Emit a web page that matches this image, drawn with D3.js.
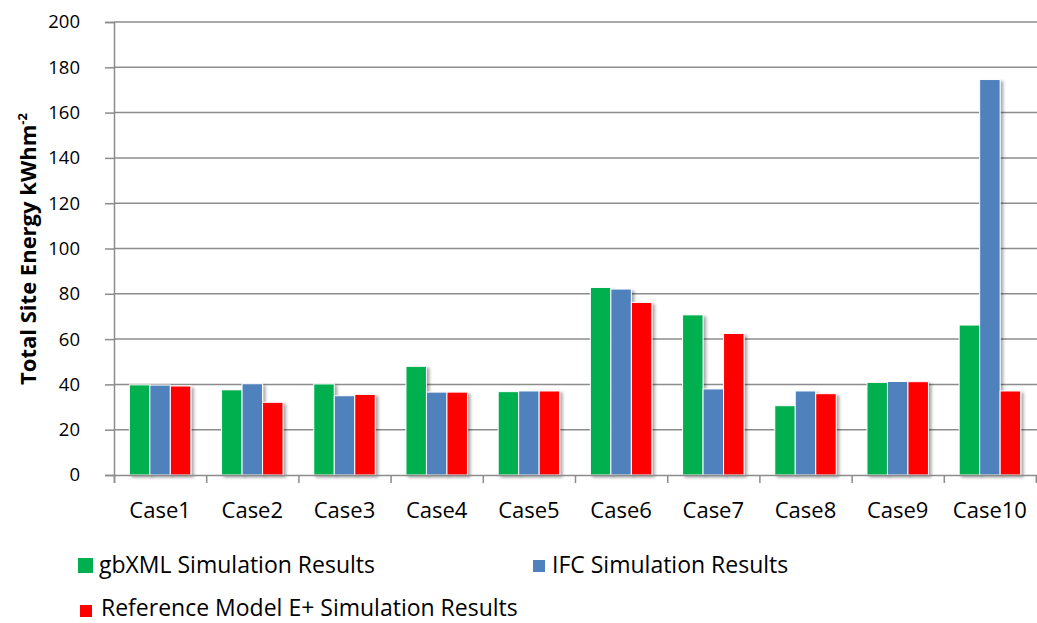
<!DOCTYPE html>
<html>
<head>
<meta charset="utf-8">
<script src="https://cdn.jsdelivr.net/npm/d3@7"></script>
<style>
  html, body { margin: 0; padding: 0; background: #fff; }
  svg { display: block; font-family: "Open Sans", sans-serif; }
</style>
</head>
<body>
<svg id="chart" width="1037" height="623"></svg>
<script>
// Categories and series values (Total Site Energy, kWh/m²)
const cases = ["Case1", "Case2", "Case3", "Case4", "Case5", "Case6", "Case7", "Case8", "Case9", "Case10"];
const seriesNames = ["gbXML Simulation Results", "IFC Simulation Results", "Reference Model E+ Simulation Results"];
const gbxmlValues = [39.8, 37.6, 40.2, 48.0, 36.8, 82.8, 70.7, 30.6, 40.9, 66.2];
const ifcValues = [39.7, 40.3, 35.0, 36.6, 37.1, 82.1, 38.0, 37.1, 41.3, 174.6];
const referenceValues = [39.3, 32.1, 35.6, 36.6, 37.1, 76.2, 62.5, 35.9, 41.2, 37.1];
const yTicks = [0, 20, 40, 60, 80, 100, 120, 140, 160, 180, 200];
const colors = ["#00B050", "#4F81BD", "#FF0000"];

const svg = d3.select("#chart");
const plot = { left: 114, right: 1036, top: 22, bottom: 475 };

const y = d3.scaleLinear().domain([0, 200]).range([plot.bottom, plot.top]);
const x0 = d3.scaleBand().domain(cases).range([plot.left, plot.right]).padding(0);
const step = x0.step();
const gapRatio = 1 / 3;
const x1 = d3.scaleBand().domain(d3.range(3))
  .range([step * gapRatio / 2, step * (1 - gapRatio / 2)]).padding(0);
const xEdges = d3.scaleLinear().domain([0, cases.length]).range([plot.left, plot.right]);

// Soft shadow under the bars
const defs = svg.append("defs");
const f = defs.append("filter").attr("id", "shadow")
  .attr("x", "-20%").attr("y", "-5%").attr("width", "160%").attr("height", "115%");
f.append("feDropShadow").attr("dx", 2.5).attr("dy", 2).attr("stdDeviation", 1.8)
  .attr("flood-color", "#000").attr("flood-opacity", 0.35);

// Horizontal gridlines
svg.append("g")
  .selectAll("line").data(yTicks.filter(t => t > 0)).join("line")
  .attr("x1", plot.left).attr("x2", 1037)
  .attr("y1", d => y(d)).attr("y2", d => y(d))
  .attr("stroke", "#8c8c8c").attr("stroke-width", 1.5);

// Bars
const rows = cases.map((c, i) => ({ c, vals: [gbxmlValues[i], ifcValues[i], referenceValues[i]] }));
svg.append("g")
  .selectAll("g").data(rows).join("g")
  .attr("transform", d => `translate(${x0(d.c)},0)`)
  .selectAll("rect").data(d => d.vals.map((v, k) => ({ v, k }))).join("rect")
  .attr("x", d => x1(d.k))
  .attr("width", x1.bandwidth())
  .attr("y", d => y(d.v))
  .attr("height", d => y(0) - y(d.v))
  .attr("fill", d => colors[d.k])
  .attr("stroke", "#fff").attr("stroke-width", 1)
  .attr("filter", "url(#shadow)");

// Y axis
const yAxis = svg.append("g")
  .attr("transform", `translate(${plot.left},0)`)
  .call(d3.axisLeft(y).tickValues(yTicks).tickSize(9).tickPadding(25));
yAxis.select(".domain").attr("stroke", "#8c8c8c").attr("stroke-width", 1.5);
yAxis.selectAll(".tick line").attr("stroke", "#8c8c8c").attr("stroke-width", 1.5);
yAxis.selectAll(".tick text").attr("font-size", 18.5).attr("fill", "#000")
  .attr("font-family", "'Open Sans', sans-serif");

// X axis: tick marks on category edges, labels at category centres
const xTicks = svg.append("g")
  .attr("transform", `translate(0,${plot.bottom})`)
  .call(d3.axisBottom(xEdges).ticks(cases.length).tickSize(8).tickFormat(""));
xTicks.select(".domain").attr("stroke", "#8c8c8c").attr("stroke-width", 1.5);
xTicks.selectAll(".tick line").attr("stroke", "#8c8c8c").attr("stroke-width", 1.5);

const xLabels = svg.append("g")
  .attr("transform", `translate(0,${plot.bottom})`)
  .call(d3.axisBottom(x0).tickSize(0).tickPadding(27));
xLabels.select(".domain").remove();
xLabels.selectAll(".tick text").attr("font-size", 22).attr("fill", "#000")
  .attr("font-family", "'Open Sans', sans-serif");

// Y axis title
const title = svg.append("text")
  .attr("transform", "translate(36,249) rotate(-90)")
  .attr("text-anchor", "middle")
  .attr("font-size", 22).attr("font-weight", "bold").attr("fill", "#000");
title.append("tspan").text("Total Site Energy kWhm");
title.append("tspan").attr("font-size", 13).attr("dy", -9).text("-2");

// Legend
const legendItems = [
  { sx: 78, sy: 558, size: 15, tx: 99, ty: 573 },
  { sx: 533, sy: 560, size: 12, tx: 552, ty: 573 },
  { sx: 80, sy: 605, size: 12, tx: 101, ty: 616 }
];
const legend = svg.append("g").selectAll("g").data(seriesNames).join("g");
legend.append("rect")
  .attr("x", (d, i) => legendItems[i].sx).attr("y", (d, i) => legendItems[i].sy)
  .attr("width", (d, i) => legendItems[i].size).attr("height", (d, i) => legendItems[i].size)
  .attr("fill", (d, i) => colors[i]);
legend.append("text")
  .attr("x", (d, i) => legendItems[i].tx).attr("y", (d, i) => legendItems[i].ty)
  .attr("font-size", 23).attr("fill", "#000")
  .text(d => d);
</script>
</body>
</html>
